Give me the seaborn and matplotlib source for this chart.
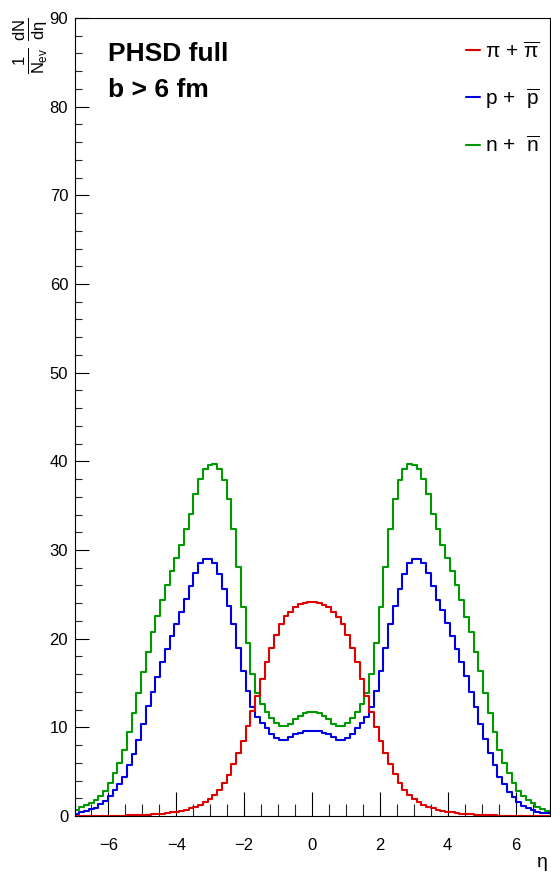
import numpy as np
import pandas as pd
import matplotlib

matplotlib.use("Agg")
import matplotlib.pyplot as plt
import seaborn as sns
from matplotlib.lines import Line2D
from matplotlib.ticker import MultipleLocator

# --- data: dN/deta per bin, 100 bins from -7 to 7 ---
n_bins = 100
eta_range = (-7.0, 7.0)
eta_edges = np.linspace(eta_range[0], eta_range[1], n_bins + 1)
eta_centers = 0.5 * (eta_edges[:-1] + eta_edges[1:])

pion = [
    0.00, 0.00, 0.00, 0.00, 0.01, 0.01, 0.02, 0.02, 0.03, 0.04,
    0.05, 0.07, 0.08, 0.10, 0.12, 0.15, 0.18, 0.22, 0.27, 0.33,
    0.40, 0.48, 0.58, 0.70, 0.85, 1.02, 1.25, 1.55, 1.90, 2.35,
    2.95, 3.70, 4.65, 5.90, 7.10, 8.50, 10.10, 11.80, 13.50, 15.40,
    17.40, 18.90, 20.40, 21.65, 22.55, 23.00, 23.60, 23.90, 24.00, 24.10,
    24.10, 24.00, 23.85, 23.55, 23.05, 22.50, 21.70, 20.45, 18.95, 17.35,
    15.45, 13.50, 11.75, 10.05, 8.45, 7.05, 5.85, 4.70, 3.75, 2.95,
    2.35, 1.90, 1.55, 1.25, 1.00, 0.85, 0.70, 0.57, 0.47, 0.40,
    0.33, 0.27, 0.22, 0.18, 0.15, 0.12, 0.10, 0.08, 0.07, 0.05,
    0.04, 0.03, 0.02, 0.02, 0.01, 0.01, 0.00, 0.00, 0.00, 0.00,
]
proton = [
    0.25, 0.40, 0.55, 0.75, 0.95, 1.30, 1.70, 2.30, 2.90, 3.65,
    4.40, 5.70, 7.00, 8.60, 10.35, 12.35, 13.95, 15.70, 17.35, 18.80,
    20.30, 21.70, 23.00, 24.45, 25.90, 27.40, 28.50, 28.95, 28.95, 28.50,
    27.30, 25.60, 23.70, 21.60, 19.00, 16.40, 14.10, 12.30, 11.20, 10.50,
    9.95, 9.30, 8.80, 8.60, 8.57, 8.90, 9.20, 9.40, 9.55, 9.62,
    9.62, 9.55, 9.40, 9.25, 8.95, 8.57, 8.60, 8.78, 9.30, 9.95,
    10.50, 11.20, 12.30, 14.10, 16.40, 19.00, 21.60, 23.70, 25.60, 27.30,
    28.50, 28.95, 28.95, 28.50, 27.40, 25.90, 24.40, 23.20, 21.80, 20.30,
    18.80, 17.40, 15.80, 13.95, 12.30, 10.40, 8.65, 7.05, 5.70, 4.40,
    3.60, 2.75, 2.10, 1.55, 1.17, 0.86, 0.68, 0.49, 0.38, 0.30,
]
neutron = [
    0.70, 1.00, 1.20, 1.50, 1.80, 2.25, 2.85, 3.70, 4.80, 6.00,
    7.50, 9.50, 11.65, 13.90, 16.20, 18.50, 20.70, 22.60, 24.40, 26.05,
    27.60, 29.10, 30.60, 32.40, 34.10, 36.35, 38.00, 39.10, 39.55, 39.75,
    39.10, 37.90, 35.70, 32.40, 28.10, 23.60, 19.50, 16.00, 13.85, 12.65,
    11.75, 11.10, 10.50, 10.15, 10.15, 10.40, 10.90, 11.30, 11.60, 11.73,
    11.73, 11.60, 11.30, 10.90, 10.40, 10.15, 10.15, 10.50, 11.10, 11.75,
    12.65, 13.85, 16.00, 19.50, 23.60, 28.10, 32.40, 35.70, 37.90, 39.10,
    39.75, 39.55, 39.10, 38.00, 36.35, 34.10, 32.40, 30.60, 29.10, 27.60,
    26.05, 24.40, 22.50, 20.70, 18.50, 16.30, 13.90, 11.60, 9.50, 7.50,
    6.00, 4.80, 3.70, 2.85, 2.25, 1.80, 1.43, 1.05, 0.75, 0.60,
]

species = ["pi", "p", "n"]
legend_labels = [
    r"$\pi$ + $\overline{\pi}$",
    r"p +  $\overline{\mathrm{p}}$",
    r"n +  $\overline{\mathrm{n}}$",
]
colors = {"pi": "#e00000", "p": "#0000e0", "n": "#009900"}

df = pd.concat(
    [
        pd.DataFrame({"eta": eta_centers, "dndeta": vals, "species": name})
        for name, vals in zip(species, [pion, proton, neutron])
    ],
    ignore_index=True,
)

# --- style ---
sns.set_style("white")
plt.rcParams["font.family"] = ["Liberation Sans", "DejaVu Sans"]
plt.rcParams["text.color"] = "black"
plt.rcParams["axes.labelcolor"] = "black"
plt.rcParams["mathtext.fontset"] = "custom"
plt.rcParams["mathtext.rm"] = "Liberation Sans"
plt.rcParams["mathtext.it"] = "Liberation Sans"
plt.rcParams["mathtext.bf"] = "Liberation Sans:bold"

W, H = 551, 876
fig = plt.figure(figsize=(W / 100, H / 100), dpi=100)
x0, x1, y0, y1 = 74.5, 549.5, 18, 816
ax = fig.add_axes([x0 / W, 1 - y1 / H, (x1 - x0) / W, (y1 - y0) / H])

sns.histplot(
    data=df,
    x="eta",
    weights="dndeta",
    hue="species",
    hue_order=species,
    bins=n_bins,
    binrange=eta_range,
    element="step",
    fill=False,
    palette=colors,
    linewidth=1.5,
    legend=False,
    ax=ax,
)

ax.set_xlim(*eta_range)
ax.set_ylim(0, 90)
ax.xaxis.set_major_locator(MultipleLocator(2))
ax.xaxis.set_minor_locator(MultipleLocator(0.5))
ax.yaxis.set_major_locator(MultipleLocator(10))
ax.yaxis.set_minor_locator(MultipleLocator(2))
ax.tick_params(axis="x", which="major", direction="in", length=17.5, width=0.8,
               pad=16, labelsize=12, colors="black", bottom=True, top=False)
ax.tick_params(axis="x", which="minor", direction="in", length=8.7, width=0.8,
               bottom=True, top=False)
ax.tick_params(axis="y", which="major", direction="in", length=10, width=0.8,
               pad=4.5, labelsize=12, colors="black", left=True, right=False)
ax.tick_params(axis="y", which="minor", direction="in", length=5, width=0.8,
               left=True, right=False)
for sp in ax.spines.values():
    sp.set_color("black")
    sp.set_linewidth(0.8)

ax.set_xlabel("η", fontsize=14, ha="right", va="top")
ax.xaxis.set_label_coords(0.997, -0.047)
ax.set_ylabel(r"$\frac{1}{N_{ev}}\;\frac{dN}{d\eta}$", fontsize=17,
              rotation=90, ha="center", va="top", rotation_mode="default")
ax.yaxis.set_label_coords(-(x0 - 30) / (x1 - x0), 1.0)

ax.text((108 - x0) / (x1 - x0), (y1 - 61) / (y1 - y0), "PHSD full",
        transform=ax.transAxes, fontsize=19, fontweight="bold", va="baseline")
ax.text((108 - x0) / (x1 - x0), (y1 - 97) / (y1 - y0), "b > 6 fm",
        transform=ax.transAxes, fontsize=19, fontweight="bold", va="baseline")

handles = [Line2D([], [], color=colors[s], linewidth=1.5) for s in species]
ax.legend(handles, legend_labels, loc="upper left",
          bbox_to_anchor=((466 - x0) / (x1 - x0), (y1 - 41) / (y1 - y0)),
          frameon=False, fontsize=15, handlelength=0.65, handletextpad=0.25,
          labelspacing=1.2, borderpad=0, borderaxespad=0)

fig.savefig("out.png", dpi=100)
